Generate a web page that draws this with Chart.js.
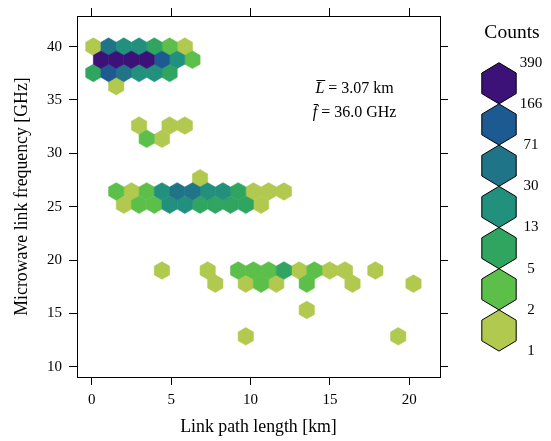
<!DOCTYPE html>
<html>
<head>
<meta charset="utf-8">
<script src="https://cdn.jsdelivr.net/npm/chart.js@4.4.1/dist/chart.umd.min.js"></script>
<style>
  html, body { margin: 0; padding: 0; background: #fff; }
</style>
</head>
<body>
<canvas id="hexChart" width="551" height="441"></canvas>
<script>
// Hexagon bin centres: link path length [km], frequency [GHz], and counts
const hexLength = [
  0.10, 1.06, 2.02, 2.98, 3.94, 4.90, 5.86,
  0.58, 1.54, 2.50, 3.46, 4.42, 5.38, 6.34,
  0.10, 1.06, 2.02, 2.98, 3.94, 4.90,
  1.54,
  2.98, 4.90, 5.86,
  3.46, 4.42,
  6.82,
  1.54, 2.50, 3.46, 4.42, 5.38, 6.34, 7.30, 8.26, 9.22, 10.18, 11.14, 12.10,
  2.02, 2.98, 3.94, 4.90, 5.86, 6.82, 7.78, 8.74, 9.70, 10.66,
  4.42, 7.30, 9.22, 10.18, 11.14, 12.10, 13.06, 14.02, 14.98, 15.94, 17.86,
  7.78, 9.70, 10.66, 11.62, 13.54, 16.42, 20.26,
  13.54,
  9.70, 19.30
];
const hexFreq = [
  40.00, 40.00, 40.00, 40.00, 40.00, 40.00, 40.00,
  38.77, 38.77, 38.77, 38.77, 38.77, 38.77, 38.77,
  37.53, 37.53, 37.53, 37.53, 37.53, 37.53,
  36.30,
  32.60, 32.60, 32.60,
  31.36, 31.36,
  27.66,
  26.43, 26.43, 26.43, 26.43, 26.43, 26.43, 26.43, 26.43, 26.43, 26.43, 26.43, 26.43,
  25.19, 25.19, 25.19, 25.19, 25.19, 25.19, 25.19, 25.19, 25.19, 25.19,
  19.02, 19.02, 19.02, 19.02, 19.02, 19.02, 19.02, 19.02, 19.02, 19.02, 19.02,
  17.79, 17.79, 17.79, 17.79, 17.79, 17.79, 17.79,
  15.32,
  12.85, 12.85
];
const hexCount = [
  1, 45, 20, 18, 9, 3, 1,
  260, 390, 310, 200, 110, 16, 3,
  7, 95, 40, 22, 15, 6,
  1,
  1, 1, 1,
  2, 1,
  1,
  3, 1, 2, 14, 35, 40, 20, 15, 6, 1, 1, 1,
  1, 3, 2, 14, 17, 8, 10, 7, 6, 1,
  1, 1, 3, 2, 4, 6, 1, 2, 1, 1, 1,
  1, 1, 2, 1, 2, 1, 1,
  1,
  1, 1
];

// Legend breaks and colours (one colour per interval)
const countBreaks = [1, 2, 5, 13, 30, 71, 166, 390];
const countColors = ['#b0c94e', '#5cbf4a', '#2fa55f', '#21907d', '#1f7587', '#1d5a92', '#3c1278'];

const xTicks = [0, 5, 10, 15, 20];
const yTicks = [10, 15, 20, 25, 30, 35, 40];

// hexbin cell size in data units
const binWidth = 0.96;  // km
const binRow = 1.234;   // GHz between rows

const serif = 'Liberation Serif';

function countClass(n) {
  for (let i = countColors.length - 1; i >= 0; i--) {
    if (n >= countBreaks[i]) return i;
  }
  return 0;
}

function hexPath(ctx, cx, cy, hw, r) {
  ctx.beginPath();
  ctx.moveTo(cx, cy - r);
  ctx.lineTo(cx + hw, cy - r / 2);
  ctx.lineTo(cx + hw, cy + r / 2);
  ctx.lineTo(cx, cy + r);
  ctx.lineTo(cx - hw, cy + r / 2);
  ctx.lineTo(cx - hw, cy - r / 2);
  ctx.closePath();
}

const points = hexLength.map((x, i) => ({ x: x, y: hexFreq[i], n: hexCount[i] }));

const datasets = countColors.map((col, c) => ({
  label: countBreaks[c] + '-' + countBreaks[c + 1],
  data: points.filter(p => countClass(p.n) === c),
  backgroundColor: col,
  pointRadius: 0,
  pointHoverRadius: 0
}));

// draw each point element as a hexagon sized from the scales
const hexbinPlugin = {
  id: 'hexbins',
  afterDatasetsDraw(chart) {
    const { ctx, scales: { x, y } } = chart;
    const hw = Math.abs(x.getPixelForValue(binWidth / 2) - x.getPixelForValue(0));
    const r = Math.abs(y.getPixelForValue(binRow / 1.5) - y.getPixelForValue(0));
    ctx.save();
    chart.data.datasets.forEach((ds, i) => {
      const meta = chart.getDatasetMeta(i);
      ctx.fillStyle = ds.backgroundColor;
      ctx.strokeStyle = ds.backgroundColor;
      ctx.lineWidth = 0.6;
      meta.data.forEach(pt => {
        hexPath(ctx, pt.x, pt.y, hw, r);
        ctx.fill();
        ctx.stroke();
      });
    });
    ctx.restore();
  }
};

// hexagon colour key on the right
const countKeyPlugin = {
  id: 'countKey',
  afterDraw(chart) {
    const { ctx, chartArea } = chart;
    const cx = chartArea.right + 59;
    const top = 62.7;
    const step = 41.2;
    const hw = 17.2;
    const r = step / 2;
    ctx.save();
    ctx.fillStyle = '#000';
    ctx.font = '19.5px "' + serif + '"';
    ctx.textAlign = 'center';
    ctx.textBaseline = 'middle';
    ctx.fillText('Counts', cx + 13, 33);
    const n = countColors.length;
    for (let j = 0; j < n; j++) {
      const c = n - 1 - j;
      hexPath(ctx, cx, top + step * j + r, hw, r);
      ctx.fillStyle = countColors[c];
      ctx.fill();
      ctx.strokeStyle = '#000';
      ctx.lineWidth = 1;
      ctx.stroke();
    }
    ctx.fillStyle = '#000';
    ctx.font = '15px "' + serif + '"';
    for (let j = 0; j < countBreaks.length; j++) {
      const label = countBreaks[countBreaks.length - 1 - j];
      ctx.fillText(String(label), cx + 32, top + step * j);
    }
    ctx.restore();
  }
};

// mean values annotation
const meanTextPlugin = {
  id: 'meanText',
  afterDraw(chart) {
    const { ctx, scales: { x, y } } = chart;
    const cx = x.getPixelForValue(16.55);
    const lines = [
      { sym: 'L', rest: ' = 3.07 km', yv: 36.15 },
      { sym: 'f', rest: ' = 36.0 GHz', yv: 33.85 }
    ];
    ctx.save();
    ctx.fillStyle = '#000';
    ctx.strokeStyle = '#000';
    ctx.lineWidth = 1;
    ctx.textBaseline = 'alphabetic';
    lines.forEach(l => {
      const base = y.getPixelForValue(l.yv) + 5;
      ctx.font = 'italic 16px "' + serif + '"';
      const wSym = ctx.measureText(l.sym).width;
      ctx.font = '16px "' + serif + '"';
      const wRest = ctx.measureText(l.rest).width;
      const x0 = cx - (wSym + wRest) / 2;
      ctx.font = 'italic 16px "' + serif + '"';
      ctx.textAlign = 'left';
      ctx.fillText(l.sym, x0, base);
      ctx.font = '16px "' + serif + '"';
      ctx.fillText(l.rest, x0 + wSym, base);
      // bar over the symbol
      const barY = Math.round(base - 13) + 0.5;
      ctx.beginPath();
      ctx.moveTo(x0 + 1, barY);
      ctx.lineTo(x0 + wSym + 1, barY);
      ctx.stroke();
    });
    ctx.restore();
  }
};

const tickFont = { family: serif, size: 15 };
const titleFont = { family: serif, size: 17.8 };
const gridOpts = { drawOnChartArea: false, drawTicks: true, tickLength: 8, color: '#000', tickColor: '#000', lineWidth: 1 };
const borderOpts = { display: true, color: '#000', width: 1 };

new Chart(document.getElementById('hexChart'), {
  type: 'scatter',
  data: { datasets: datasets },
  options: {
    responsive: false,
    animation: false,
    layout: { padding: 0 },
    plugins: {
      legend: { display: false },
      tooltip: { enabled: false }
    },
    scales: {
      x: {
        type: 'linear',
        position: 'bottom',
        min: -0.93,
        max: 21.93,
        afterBuildTicks: s => { s.ticks = xTicks.map(v => ({ value: v })); },
        afterFit: s => { s.height = 64; },
        grid: gridOpts,
        border: borderOpts,
        ticks: { color: '#000', font: tickFont, padding: 6, maxRotation: 0, autoSkip: false },
        title: { display: true, text: 'Link path length [km]', color: '#000', font: titleFont, padding: { top: 0, bottom: 3 } }
      },
      xTop: {
        type: 'linear',
        position: 'top',
        min: -0.93,
        max: 21.93,
        afterBuildTicks: s => { s.ticks = xTicks.map(v => ({ value: v })); },
        afterFit: s => { s.height = 15; },
        grid: gridOpts,
        border: borderOpts,
        ticks: { display: false }
      },
      y: {
        type: 'linear',
        position: 'left',
        min: 9.04,
        max: 42.87,
        afterBuildTicks: s => { s.ticks = yTicks.map(v => ({ value: v })); },
        afterFit: s => { s.width = 77; },
        grid: gridOpts,
        border: borderOpts,
        ticks: { color: '#000', font: tickFont, padding: 7, autoSkip: false },
        title: { display: true, text: 'Microwave link frequency [GHz]', color: '#000', font: titleFont, padding: { top: 12, bottom: 0 } }
      },
      yRight: {
        type: 'linear',
        position: 'right',
        min: 9.04,
        max: 42.87,
        afterBuildTicks: s => { s.ticks = yTicks.map(v => ({ value: v })); },
        afterFit: s => { s.width = 111; },
        grid: gridOpts,
        border: borderOpts,
        ticks: { display: false }
      }
    }
  },
  plugins: [hexbinPlugin, countKeyPlugin, meanTextPlugin]
});
</script>
</body>
</html>
